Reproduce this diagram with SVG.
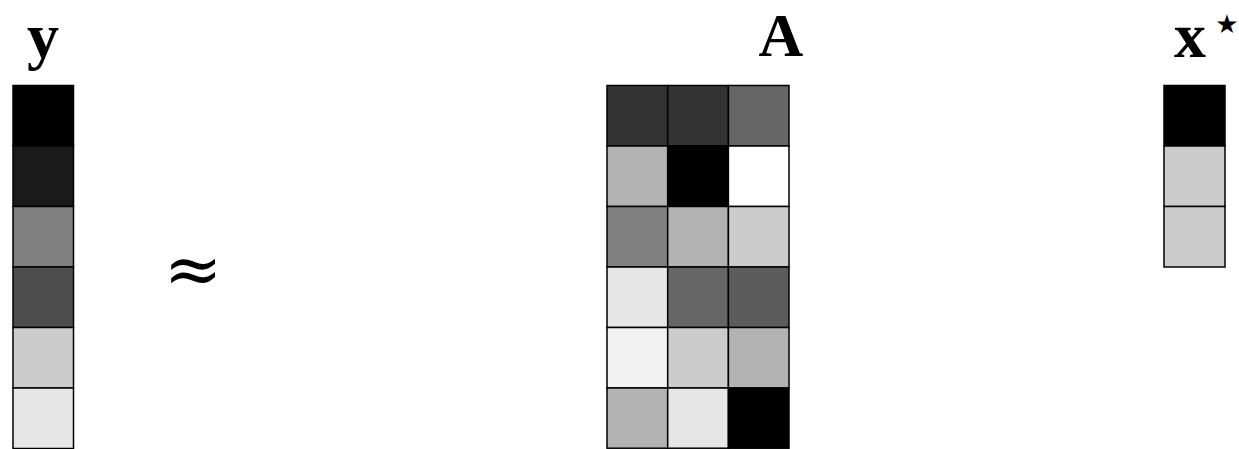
<svg xmlns="http://www.w3.org/2000/svg" width="1239" height="449" viewBox="0 0 1239 449">
<style>
.c{stroke:#000;stroke-width:1.5}
.lbl{font-family:"Liberation Serif","DejaVu Serif",serif;font-weight:bold;fill:#000}
</style>
<rect width="1239" height="449" fill="#fff"/>
<g id="label-y"><text class="lbl" x="43" y="57" font-size="64" text-anchor="middle">y</text></g>
<g id="label-A"><text class="lbl" x="781" y="56" font-size="62" text-anchor="middle">A</text></g>
<g id="label-x"><text class="lbl" x="1190" y="57" font-size="64" text-anchor="middle">x</text><text x="1227" y="33" font-size="26" text-anchor="middle" font-family="DejaVu Sans, sans-serif">★</text></g>
<g id="approx"><text x="193" y="293" font-size="70" text-anchor="middle" font-family="DejaVu Serif, serif">≈</text></g>
<g id="vector-y">
<rect class="c" x="13" y="85.5" width="60.5" height="60.5" fill="#000"/>
<rect class="c" x="13" y="146" width="60.5" height="60.5" fill="#1a1a1a"/>
<rect class="c" x="13" y="206.5" width="60.5" height="60.5" fill="#808080"/>
<rect class="c" x="13" y="267" width="60.5" height="60.5" fill="#4d4d4d"/>
<rect class="c" x="13" y="327.5" width="60.5" height="60.5" fill="#ccc"/>
<rect class="c" x="13" y="388" width="60.5" height="60.5" fill="#e6e6e6"/>
</g>
<g id="matrix-A">
<rect class="c" x="607" y="85.5" width="60.7" height="60.5" fill="#333"/>
<rect class="c" x="667.7" y="85.5" width="60.7" height="60.5" fill="#333"/>
<rect class="c" x="728.4" y="85.5" width="60.6" height="60.5" fill="#666"/>
<rect class="c" x="607" y="146" width="60.7" height="60.5" fill="#b3b3b3"/>
<rect class="c" x="667.7" y="146" width="60.7" height="60.5" fill="#000"/>
<rect class="c" x="728.4" y="146" width="60.6" height="60.5" fill="#fff"/>
<rect class="c" x="607" y="206.5" width="60.7" height="60.5" fill="#808080"/>
<rect class="c" x="667.7" y="206.5" width="60.7" height="60.5" fill="#b3b3b3"/>
<rect class="c" x="728.4" y="206.5" width="60.6" height="60.5" fill="#ccc"/>
<rect class="c" x="607" y="267" width="60.7" height="60.5" fill="#e6e6e6"/>
<rect class="c" x="667.7" y="267" width="60.7" height="60.5" fill="#666"/>
<rect class="c" x="728.4" y="267" width="60.6" height="60.5" fill="#5c5c5c"/>
<rect class="c" x="607" y="327.5" width="60.7" height="60.5" fill="#f2f2f2"/>
<rect class="c" x="667.7" y="327.5" width="60.7" height="60.5" fill="#ccc"/>
<rect class="c" x="728.4" y="327.5" width="60.6" height="60.5" fill="#b3b3b3"/>
<rect class="c" x="607" y="388" width="60.7" height="60.2" fill="#b3b3b3"/>
<rect class="c" x="667.7" y="388" width="60.7" height="60.2" fill="#e6e6e6"/>
<rect class="c" x="728.4" y="388" width="60.6" height="60.2" fill="#000"/>
</g>
<g id="vector-x">
<rect class="c" x="1164" y="85.5" width="61" height="60.5" fill="#000"/>
<rect class="c" x="1164" y="146" width="61" height="60.5" fill="#ccc"/>
<rect class="c" x="1164" y="206.5" width="61" height="60.5" fill="#ccc"/>
</g>
</svg>
